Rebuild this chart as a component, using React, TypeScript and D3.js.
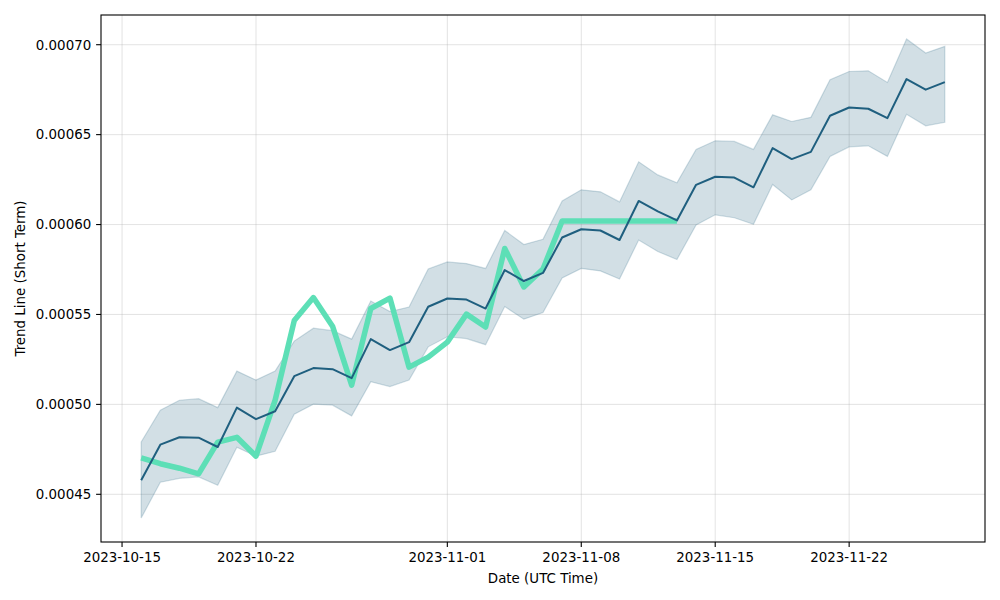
import React from 'react'
import * as d3 from 'd3'

// days shown in the chart
const dates = [
  '2023-10-16', '2023-10-17', '2023-10-18', '2023-10-19', '2023-10-20', '2023-10-21', '2023-10-22',
  '2023-10-23', '2023-10-24', '2023-10-25', '2023-10-26', '2023-10-27', '2023-10-28', '2023-10-29',
  '2023-10-30', '2023-10-31', '2023-11-01', '2023-11-02', '2023-11-03', '2023-11-04', '2023-11-05',
  '2023-11-06', '2023-11-07', '2023-11-08', '2023-11-09', '2023-11-10', '2023-11-11', '2023-11-12',
  '2023-11-13', '2023-11-14', '2023-11-15', '2023-11-16', '2023-11-17', '2023-11-18', '2023-11-19',
  '2023-11-20', '2023-11-21', '2023-11-22', '2023-11-23', '2023-11-24', '2023-11-25', '2023-11-26',
  '2023-11-27',
]

// trend line (mean)
const trend = [
  0.0004578, 0.0004776, 0.0004817, 0.0004815, 0.0004763, 0.0004982, 0.0004918,
  0.0004962, 0.0005157, 0.0005202, 0.0005196, 0.0005146, 0.0005363, 0.0005302,
  0.0005346, 0.0005543, 0.0005589, 0.0005583, 0.0005533, 0.0005747, 0.0005686,
  0.0005731, 0.0005928, 0.0005974, 0.0005967, 0.0005914, 0.0006131, 0.0006073,
  0.0006023, 0.0006221, 0.0006266, 0.0006261, 0.0006207, 0.0006425, 0.0006364,
  0.0006404, 0.0006605, 0.0006651, 0.0006644, 0.0006592, 0.0006809, 0.000675,
  0.0006792,
]

const upper = [
  0.0004791, 0.0004968, 0.0005023, 0.0005032, 0.0004982, 0.0005185, 0.0005135,
  0.0005185, 0.0005352, 0.0005424, 0.000541, 0.0005363, 0.0005575, 0.0005516,
  0.0005541, 0.0005753, 0.0005792, 0.0005783, 0.0005756, 0.0005967, 0.0005889,
  0.0005918, 0.0006131, 0.0006193, 0.0006182, 0.0006126, 0.0006349, 0.0006276,
  0.0006232, 0.0006418, 0.0006466, 0.0006462, 0.0006418, 0.000661, 0.0006573,
  0.0006596, 0.0006805, 0.0006851, 0.0006855, 0.000679, 0.0007032, 0.0006954,
  0.0006991,
]

const lower = [
  0.0004368, 0.0004567, 0.0004589, 0.0004597, 0.000455, 0.0004762, 0.0004712,
  0.0004739, 0.0004945, 0.0005001, 0.0004996, 0.0004936, 0.0005126, 0.0005099,
  0.0005135, 0.000532, 0.0005376, 0.0005366, 0.0005332, 0.0005544, 0.0005474,
  0.0005511, 0.0005703, 0.0005756, 0.0005742, 0.0005697, 0.0005914, 0.000585,
  0.0005806, 0.0005998, 0.0006054, 0.0006038, 0.0006001, 0.0006223, 0.0006137,
  0.0006193, 0.0006379, 0.0006432, 0.0006438, 0.0006379, 0.0006613, 0.0006549,
  0.0006569,
]

// actual price, only up to 2023-11-13
const actual = [
  0.0004702, 0.000467, 0.0004645, 0.0004614, 0.000479, 0.0004817, 0.0004712,
  0.0005023, 0.0005466, 0.0005594, 0.0005435, 0.0005107, 0.0005533, 0.0005591,
  0.0005207, 0.0005263, 0.0005346, 0.0005502, 0.000543, 0.0005867, 0.0005653,
  0.0005753, 0.000602, 0.000602, 0.000602, 0.000602, 0.000602, 0.000602,
  0.000602,
]

const xTickLabels = ['2023-10-15', '2023-10-22', '2023-11-01', '2023-11-08', '2023-11-15', '2023-11-22']
const yTickValues = [0.00045, 0.0005, 0.00055, 0.0006, 0.00065, 0.0007]

const width = 1000
const height = 600
const left = 101
const right = 985
const top = 15
const bottom = 542
const font = 'DejaVu Sans, sans-serif'
const lineColor = '#1f5f7f'
const greenColor = '#5ddfb6'

export default function App() {
  const parse = d3.utcParse('%Y-%m-%d')
  const days = dates.map((d) => parse(d) as Date)

  // matplotlib style 5% margins
  const t0 = days[0].getTime()
  const t1 = days[days.length - 1].getTime()
  const xPad = (t1 - t0) * 0.05
  const x = d3.scaleUtc().domain([new Date(t0 - xPad), new Date(t1 + xPad)]).range([left, right])

  const yMin = d3.min(lower) as number
  const yMax = d3.max(upper) as number
  const yPad = (yMax - yMin) * 0.05
  const y = d3.scaleLinear().domain([yMin - yPad, yMax + yPad]).range([bottom, top])

  const band = d3.area<number>()
    .x((_, i) => x(days[i]))
    .y0((_, i) => y(lower[i]))
    .y1((d) => y(d))
  const bandEdge = d3.line<[Date, number]>().x((d) => x(d[0])).y((d) => y(d[1]))
  const line = d3.line<number>().x((_, i) => x(days[i])).y((d) => y(d))

  const edgePts: [Date, number][] = [
    ...upper.map((v, i) => [days[i], v] as [Date, number]),
    ...lower.map((v, i) => [days[i], v] as [Date, number]).reverse(),
  ]

  const xTicks = xTickLabels.map((s) => parse(s) as Date)

  return (
    <svg width={width} height={height} style={{ position: 'absolute', left: 0, top: 0, background: 'white' }}>
      {/* grid */}
      <g stroke="#b0b0b0" strokeOpacity={0.35} strokeWidth={1}>
        {xTicks.map((d, i) => (
          <line key={'gx' + i} x1={x(d)} x2={x(d)} y1={top} y2={bottom} />
        ))}
        {yTickValues.map((v, i) => (
          <line key={'gy' + i} x1={left} x2={right} y1={y(v)} y2={y(v)} />
        ))}
      </g>

      {/* confidence band */}
      <path d={band(upper) || ''} fill={lineColor} fillOpacity={0.2} stroke="none" />
      <path d={(bandEdge(edgePts) || '') + 'Z'} fill="none" stroke={lineColor} strokeOpacity={0.2} strokeWidth={1.2} />

      <path d={line(actual) || ''} fill="none" stroke={greenColor} strokeWidth={5.5} strokeLinejoin="round" />
      <path d={line(trend) || ''} fill="none" stroke={lineColor} strokeWidth={2} strokeLinejoin="round" />

      {/* frame */}
      <rect x={left} y={top} width={right - left} height={bottom - top} fill="none" stroke="black" strokeWidth={1.1} />

      {/* axes */}
      <g fontFamily={font} fontSize={13.4} fill="black">
        {xTicks.map((d, i) => (
          <g key={'tx' + i} transform={`translate(${x(d)},${bottom})`}>
            <line y1={0} y2={4.9} stroke="black" strokeWidth={1.1} />
            <text y={9.8} dy="0.76em" textAnchor="middle">{xTickLabels[i]}</text>
          </g>
        ))}
        {yTickValues.map((v, i) => (
          <g key={'ty' + i} transform={`translate(${left},${y(v)})`}>
            <line x1={0} x2={-4.9} stroke="black" strokeWidth={1.1} />
            <text x={-9.8} dy="0.36em" textAnchor="end">{v.toFixed(5)}</text>
          </g>
        ))}
        <text x={(left + right) / 2} y={583} textAnchor="middle">Date (UTC Time)</text>
        <text transform={`translate(25,${(top + bottom) / 2}) rotate(-90)`} textAnchor="middle">Trend Line (Short Term)</text>
      </g>
    </svg>
  )
}
